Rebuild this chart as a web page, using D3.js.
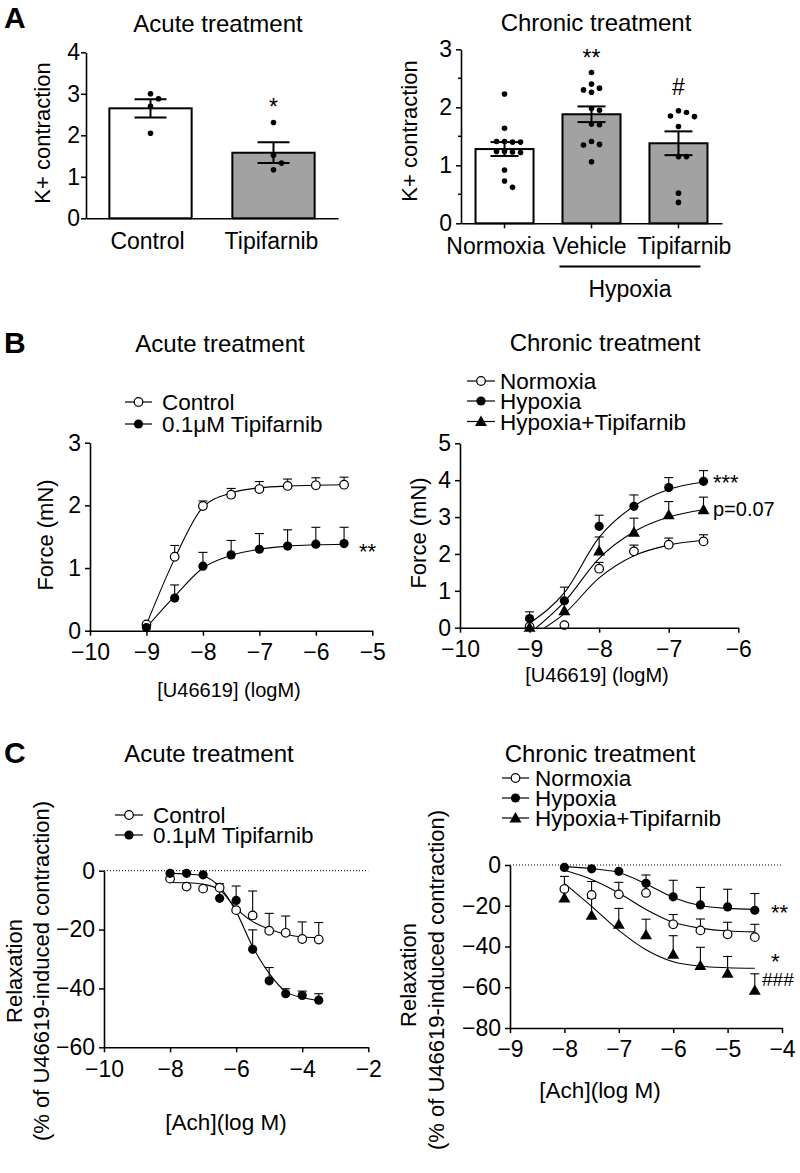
<!DOCTYPE html>
<html><head><meta charset="utf-8">
<script src="https://cdn.jsdelivr.net/npm/d3@7"></script>
<style>
body{margin:0;background:#fff;}
svg text{font-family:"Liberation Sans",Arial,sans-serif;fill:#000;}
</style></head><body>
<svg id="fig" width="800" height="1173"></svg>
<script>
// ---------------- DATA ----------------
// Panel A – acute
const aAcuteCategories = ["Control", "Tipifarnib"];
const aAcuteMean = [2.65, 1.58];
const aAcuteSem = [0.22, 0.25];
const aAcuteDots = [[3.00, 2.88, 2.70, 2.05], [2.31, 1.52, 1.33, 1.17]];
const aAcuteSig = ["", "*"];
const aAcuteYTicks = [0, 1, 2, 3, 4];
// Panel A – chronic
const aChronicCategories = ["Normoxia", "Vehicle", "Tipifarnib"];
const aChronicMean = [1.28, 1.88, 1.38];
const aChronicSem = [0.12, 0.135, 0.205];
const aChronicDots = [
  [2.23, 1.64, 1.41, 1.40, 1.41, 1.40, 1.24, 1.23, 1.24, 1.22, 0.92, 0.73, 0.62],
  [2.60, 2.33, 2.26, 2.30, 2.40, 1.98, 1.95, 1.70, 1.71, 1.36, 1.35, 1.41, 1.06],
  [1.91, 1.84, 1.85, 1.94, 1.67, 1.15, 1.15, 0.52, 0.36]
];
const aChronicSig = ["", "**", "#"];
const aChronicYTicks = [0, 1, 2, 3];
const aChronicYMinor = [0.5, 1.5, 2.5];

// Panel B – acute
const bAcuteDose = [-9, -8.5, -8, -7.5, -7, -6.5, -6, -5.5];
const bAcuteControl = [0.10, 1.18, 1.99, 2.17, 2.26, 2.31, 2.32, 2.33];
const bAcuteControlSem = [0, 0.18, 0.08, 0.10, 0.12, 0.11, 0.12, 0.12];
const bAcuteControlFit = [0.10, 1.15, 1.97, 2.20, 2.28, 2.31, 2.32, 2.33];
const bAcuteTipi = [0.05, 0.52, 1.03, 1.21, 1.30, 1.35, 1.38, 1.39];
const bAcuteTipiSem = [0, 0.21, 0.22, 0.23, 0.25, 0.26, 0.27, 0.26];
const bAcuteTipiFit = [0.05, 0.55, 1.00, 1.20, 1.30, 1.35, 1.37, 1.38];
const bAcuteXTicks = [-10, -9, -8, -7, -6, -5];
const bAcuteYTicks = [0, 1, 2, 3];
// Panel B – chronic
const bChronicDose = [-9, -8.5, -8, -7.5, -7, -6.5];
const bChronicNorm = [0.03, 0.07, 1.60, 2.07, 2.25, 2.34];
const bChronicNormSem = [0, 0, 0.17, 0.17, 0.18, 0.18];
const bChronicNormFit = [-0.25, 0.38, 1.35, 1.95, 2.24, 2.37];
const bChronicHyp = [0.25, 0.73, 2.75, 3.29, 3.80, 3.97];
const bChronicHypSem = [0.18, 0.37, 0.30, 0.31, 0.27, 0.29];
const bChronicHypFit = [0.12, 0.95, 2.45, 3.30, 3.75, 3.95];
const bChronicHypTip = [0.01, 0.46, 2.08, 2.59, 3.06, 3.20];
const bChronicHypTipSem = [0, 0.25, 0.38, 0.38, 0.36, 0.34];
const bChronicHypTipFit = [-0.15, 0.70, 1.88, 2.60, 3.00, 3.20];
const bChronicXTicks = [-10, -9, -8, -7, -6];
const bChronicYTicks = [0, 1, 2, 3, 4, 5];

// Panel C – acute
const cAcuteDose = [-8, -7.5, -7, -6.5, -6, -5.5, -5, -4.5, -4, -3.5];
const cAcuteControl = [-2.7, -5.4, -6.1, -5.8, -13.4, -15.2, -20.4, -21.1, -23.2, -23.4];
const cAcuteControlSem = [0, 0, 0, 0, 0, 8.3, 5.9, 5.7, 5.8, 5.8];
const cAcuteControlFit = [-4.0, -4.1, -4.6, -6.5, -12.8, -17.3, -19.8, -21.6, -22.5, -22.7];
const cAcuteTipi = [-0.9, -0.9, -1.4, -9.4, -10.1, -26.7, -37.4, -41.8, -42.4, -44.0];
const cAcuteTipiSem = [0, 0, 0, 5.0, 4.9, 6.6, 4.5, 1.7, 1.5, 2.2];
const cAcuteTipiFit = [-0.9, -1.1, -1.8, -5.5, -13.9, -25.8, -34.9, -41.1, -43.1, -44.1];
const cAcuteXTicks = [-10, -8, -6, -4, -2];
const cAcuteYTicks = [0, -20, -40, -60];
// Panel C – chronic
const cChronicDose = [-8, -7.5, -7, -6.5, -6, -5.5, -5, -4.5];
const cChronicNorm = [-11.8, -14.7, -14.4, -13.7, -29.1, -32.1, -34.0, -35.4];
const cChronicNormSem = [6.2, 6.6, 5.9, 0, 4.8, 5.6, 5.9, 6.3];
const cChronicNormFit = [-2.6, -7.1, -13.7, -21.8, -28.1, -31.0, -32.4, -32.8];
const cChronicHyp = [-1.2, -1.9, -3.1, -9.0, -15.6, -19.6, -20.6, -22.2];
const cChronicHypSem = [0, 0, 0, 4.1, 8.1, 8.6, 8.7, 8.2];
const cChronicHypFit = [-0.8, -1.8, -3.7, -9.3, -15.9, -19.9, -21.3, -21.8];
const cChronicHypTip = [-16.2, -24.7, -29.1, -34.3, -43.8, -49.4, -53.1, -61.5];
const cChronicHypTipSem = [0, 8.4, 7.8, 7.7, 9.1, 9.0, 8.2, 8.1];
const cChronicHypTipFit = [-9.0, -20.3, -32.1, -41.6, -47.5, -49.7, -50.4, -50.7];
const cChronicXTicks = [-9, -8, -7, -6, -5, -4];
const cChronicYTicks = [0, -20, -40, -60, -80];

// ---------------- DRAWING ----------------
const FONT = '"Liberation Sans", Arial, sans-serif';
const svg = d3.select("#fig");
const GRAY = "#a2a2a2";
const TICK_FS = 23, TITLE_FS = 24, LEG_FS = 22.5, AXT_FS = 22;

function txt(x, y, s, size, opt = {}) {
  const t = svg.append("text").attr("x", x).attr("y", y).text(s)
    .attr("font-size", size).attr("font-family", FONT)
    .attr("text-anchor", opt.anchor || "start");
  if (opt.bold) t.attr("font-weight", "bold");
  return t;
}
function vtxt(cx, cy, s, size) {
  svg.append("text").attr("transform", `translate(${cx},${cy}) rotate(-90)`)
    .attr("text-anchor", "middle").attr("dominant-baseline", "central")
    .attr("font-size", size).attr("font-family", FONT).text(s);
}
function styleAxis(g, fs) {
  g.attr("font-size", fs).attr("font-family", FONT);
  g.selectAll("path.domain").attr("stroke", "#000").attr("stroke-width", 1.6);
  g.selectAll(".tick line").attr("stroke", "#000").attr("stroke-width", 1.5);
  g.selectAll(".tick text").attr("fill", "#000");
}
function swarm(values, y, cx, d) {
  const placed = [], out = new Array(values.length);
  values.map((v, i) => ({ v, i })).sort((a, b) => b.v - a.v).forEach(({ v, i }) => {
    const yy = y(v);
    for (let k = 0; k < 60; k++) {
      const off = k === 0 ? 0 : (k % 2 ? 1 : -1) * Math.ceil(k / 2) * d;
      const xx = cx + off;
      if (placed.every(p => Math.hypot(p.x - xx, p.y - yy) >= d)) {
        placed.push({ x: xx, y: yy }); out[i] = { x: xx, y: yy }; break;
      }
    }
  });
  return out;
}

function barPanel(o) {
  const g = svg.append("g");
  const x = d3.scaleBand().domain(o.cats).range(o.xRange).paddingInner(o.pi).paddingOuter(o.po);
  const y = d3.scaleLinear().domain(o.yDomain).range(o.yRange);
  o.cats.forEach((c, i) => {
    g.append("rect").attr("x", x(c)).attr("y", y(o.mean[i]))
      .attr("width", x.bandwidth()).attr("height", y(0) - y(o.mean[i]))
      .attr("fill", o.fills[i]).attr("stroke", "#000").attr("stroke-width", 2);
  });
  o.cats.forEach((c, i) => {
    const cx = x(c) + x.bandwidth() / 2;
    swarm(o.dots[i], y, cx, 8).forEach(p => {
      g.append("circle").attr("cx", p.x).attr("cy", p.y).attr("r", 2.8).attr("fill", "#000");
    });
  });
  o.cats.forEach((c, i) => {
    const cx = x(c) + x.bandwidth() / 2, hw = o.capW / 2;
    const lo = y(o.mean[i] - o.sem[i]), hi = y(o.mean[i] + o.sem[i]);
    g.append("line").attr("x1", cx).attr("x2", cx).attr("y1", lo).attr("y2", hi).attr("stroke", "#000").attr("stroke-width", 2);
    [lo, hi].forEach(yy => g.append("line").attr("x1", cx - hw).attr("x2", cx + hw).attr("y1", yy).attr("y2", yy).attr("stroke", "#000").attr("stroke-width", 2));
  });
  o.cats.forEach((c, i) => {
    if (!o.sig[i]) return;
    const cx = x(c) + x.bandwidth() / 2;
    const top = y(d3.max(o.dots[i]));
    const off = o.sig[i].includes("#") ? 16 : 7;
    txt(cx, top - off, o.sig[i], 23, { anchor: "middle" });
  });
  const ya = g.append("g").attr("transform", `translate(${o.xRange[0]},0)`)
    .call(d3.axisLeft(y).tickValues(o.yTicks).tickFormat(d3.format("d")).tickSize(5).tickSizeOuter(0).tickPadding(o.yPad));
  styleAxis(ya, TICK_FS);
  if (o.yMinor) {
    o.yMinor.forEach(v => g.append("line").attr("x1", o.xRange[0] - 3).attr("x2", o.xRange[0]).attr("y1", y(v)).attr("y2", y(v)).attr("stroke", "#000").attr("stroke-width", 1.5));
  }
  const xa = g.append("g").attr("transform", `translate(0,${y(0)})`)
    .call(d3.axisBottom(x).tickSize(o.xTickSize).tickSizeOuter(0).tickPadding(o.xPad));
  styleAxis(xa, TICK_FS);
  if (o.labelShift) xa.selectAll(".tick text").attr("dx", (d, i) => o.labelShift[i]);
  return { x, y };
}

function marker(g, type, cx, cy) {
  if (type === "open") {
    g.append("circle").attr("cx", cx).attr("cy", cy).attr("r", 4.3).attr("fill", "#fff").attr("stroke", "#000").attr("stroke-width", 1.2);
  } else if (type === "filled") {
    g.append("circle").attr("cx", cx).attr("cy", cy).attr("r", 4.6).attr("fill", "#000");
  } else {
    g.append("path").attr("d", d3.symbol(d3.symbolTriangle, 62)()).attr("transform", `translate(${cx},${cy + 1})`).attr("fill", "#000");
  }
}

function linePanel(o) {
  const g = svg.append("g");
  const x = d3.scaleLinear().domain(o.xDomain).range(o.xRange);
  const y = d3.scaleLinear().domain(o.yDomain).range(o.yRange);
  const id = "clip" + Math.round(o.xRange[0]) + Math.round(o.yRange[0]);
  g.append("clipPath").attr("id", id).append("rect")
    .attr("x", o.xRange[0]).attr("y", 0).attr("width", o.xRange[1] - o.xRange[0]).attr("height", y(o.clipMin));
  if (o.zeroLine) {
    g.append("line").attr("x1", o.xRange[0]).attr("x2", o.xRange[1]).attr("y1", y(0)).attr("y2", y(0))
      .attr("stroke", "#000").attr("stroke-width", 1).attr("stroke-dasharray", "1,2");
  }
  const line = d3.line().x(d => x(d[0])).y(d => y(d[1])).curve(d3.curveMonotoneX);
  o.series.forEach(s => {
    g.append("path").attr("d", line(s.x.map((v, i) => [v, s.fit[i]])))
      .attr("fill", "none").attr("stroke", "#000").attr("stroke-width", 1.1).attr("clip-path", `url(#${id})`);
  });
  o.series.forEach(s => {
    s.x.forEach((v, i) => {
      if (!s.sem[i]) return;
      const cx = x(v), y1 = y(s.y[i]), y2 = y(s.y[i] + s.sem[i]);
      g.append("line").attr("x1", cx).attr("x2", cx).attr("y1", y1).attr("y2", y2).attr("stroke", "#000").attr("stroke-width", 1.1);
      g.append("line").attr("x1", cx - 4.5).attr("x2", cx + 4.5).attr("y1", y2).attr("y2", y2).attr("stroke", "#000").attr("stroke-width", 1.1);
    });
  });
  o.series.forEach(s => s.x.forEach((v, i) => marker(g, s.marker, x(v), y(s.y[i]))));
  const ya = g.append("g").attr("transform", `translate(${o.xRange[0]},0)`)
    .call(d3.axisLeft(y).tickValues(o.yTicks).tickFormat(d3.format("d")).tickSize(5).tickSizeOuter(0).tickPadding(4));
  styleAxis(ya, TICK_FS);
  const xa = g.append("g").attr("transform", `translate(0,${o.yRange[0]})`)
    .call(d3.axisBottom(x).tickValues(o.xTicks).tickFormat(d3.format("d")).tickSize(5).tickSizeOuter(0).tickPadding(8));
  styleAxis(xa, TICK_FS);
  return { x, y };
}

function legend(items, x0, x1, tx, ys) {
  const g = svg.append("g");
  items.forEach((it, i) => {
    g.append("line").attr("x1", x0).attr("x2", x1).attr("y1", ys[i]).attr("y2", ys[i]).attr("stroke", "#000").attr("stroke-width", 1.2);
    marker(g, it.marker, (x0 + x1) / 2, ys[i]);
    txt(tx, ys[i] + 8, it.label, LEG_FS);
  });
}

// ---- Panel letters ----
txt(4, 28, "A", 30, { bold: true });
txt(4, 353, "B", 30, { bold: true });
txt(4, 763, "C", 30, { bold: true });

// ---- Panel A ----
txt(218, 32, "Acute treatment", TITLE_FS, { anchor: "middle" });
txt(596, 31, "Chronic treatment", TITLE_FS, { anchor: "middle" });
barPanel({
  cats: aAcuteCategories, mean: aAcuteMean, sem: aAcuteSem, dots: aAcuteDots, sig: aAcuteSig,
  yDomain: [0, 4], yRange: [218.3, 52.3], yTicks: aAcuteYTicks, xRange: [86, 338], pi: 0.331, po: 0.19,
  fills: ["#fff", GRAY], capW: 32, xTickSize: 0, xPad: 14, yPad: 1, labelShift: [-3, -2]
});
vtxt(42, 133, "K+ contraction", AXT_FS);
const aR = barPanel({
  cats: aChronicCategories, mean: aChronicMean, sem: aChronicSem, dots: aChronicDots, sig: aChronicSig,
  yDomain: [0, 3], yRange: [223.3, 49.3], yTicks: aChronicYTicks, yMinor: aChronicYMinor, xRange: [461, 722], pi: 0.333, po: 0.167,
  fills: ["#fff", GRAY, GRAY], capW: 28, xTickSize: 5, xPad: 9, yPad: 4, labelShift: [-9, -2, 6]
});
vtxt(409, 131, "K+ contraction", AXT_FS);
{
  const xs = aR.x("Vehicle") - 3, xe = aR.x("Tipifarnib") + aR.x.bandwidth() - 7;
  svg.append("line").attr("x1", xs).attr("x2", xe).attr("y1", 266.5).attr("y2", 266.5).attr("stroke", "#000").attr("stroke-width", 2);
  txt((xs + xe) / 2, 297, "Hypoxia", TICK_FS, { anchor: "middle" });
}

// ---- Panel B ----
txt(220, 352, "Acute treatment", TITLE_FS, { anchor: "middle" });
txt(605, 351, "Chronic treatment", TITLE_FS, { anchor: "middle" });
legend([{ marker: "open", label: "Control" }, { marker: "filled", label: "0.1\u03BCM Tipifarnib" }], 125, 152, 162, [402, 424]);
const bL = linePanel({
  xDomain: [-10, -5], xRange: [90, 372.3], yDomain: [0, 3], yRange: [630.7, 442.7], clipMin: 0,
  xTicks: bAcuteXTicks, yTicks: bAcuteYTicks,
  series: [
    { x: bAcuteDose, y: bAcuteControl, sem: bAcuteControlSem, fit: bAcuteControlFit, marker: "open" },
    { x: bAcuteDose, y: bAcuteTipi, sem: bAcuteTipiSem, fit: bAcuteTipiFit, marker: "filled" }
  ]
});
vtxt(45, 535, "Force (mN)", AXT_FS);
txt(229, 697, "[U46619] (logM)", 20, { anchor: "middle" });
txt(359, bL.y(1.34) + 12, "**", 22);

legend([{ marker: "open", label: "Normoxia" }, { marker: "filled", label: "Hypoxia" }, { marker: "triangle", label: "Hypoxia+Tipifarnib" }],
  467, 495, 500, [381, 401, 421.5]);
const bR = linePanel({
  xDomain: [-10, -6], xRange: [460, 738.3], yDomain: [0, 5], yRange: [627.7, 443.3], clipMin: 0,
  xTicks: bChronicXTicks, yTicks: bChronicYTicks,
  series: [
    { x: bChronicDose, y: bChronicNorm, sem: bChronicNormSem, fit: bChronicNormFit, marker: "open" },
    { x: bChronicDose, y: bChronicHyp, sem: bChronicHypSem, fit: bChronicHypFit, marker: "filled" },
    { x: bChronicDose, y: bChronicHypTip, sem: bChronicHypTipSem, fit: bChronicHypTipFit, marker: "triangle" }
  ]
});
vtxt(418, 533, "Force (mN)", AXT_FS);
txt(597, 682, "[U46619] (logM)", 20, { anchor: "middle" });
txt(713, bR.y(4.05) + 12, "***", 22);
txt(713, bR.y(3.23) + 7, "p=0.07", 20);

// ---- Panel C ----
txt(209, 762, "Acute treatment", TITLE_FS, { anchor: "middle" });
txt(600, 762, "Chronic treatment", TITLE_FS, { anchor: "middle" });
legend([{ marker: "open", label: "Control" }, { marker: "filled", label: "0.1\u03BCM Tipifarnib" }], 115, 143, 153, [815, 835]);
linePanel({
  xDomain: [-10, -2], xRange: [104, 368.3], yDomain: [-60, 0], yRange: [1047.3, 870.7], clipMin: -60, zeroLine: true,
  xTicks: cAcuteXTicks, yTicks: cAcuteYTicks,
  series: [
    { x: cAcuteDose, y: cAcuteControl, sem: cAcuteControlSem, fit: cAcuteControlFit, marker: "open" },
    { x: cAcuteDose, y: cAcuteTipi, sem: cAcuteTipiSem, fit: cAcuteTipiFit, marker: "filled" }
  ]
});
vtxt(14, 971, "Relaxation", AXT_FS);
vtxt(41, 971, "(% of U46619-induced contraction)", AXT_FS);
txt(226, 1130, "[Ach](log M)", 22.5, { anchor: "middle" });

legend([{ marker: "open", label: "Normoxia" }, { marker: "filled", label: "Hypoxia" }, { marker: "triangle", label: "Hypoxia+Tipifarnib" }],
  502, 529, 535, [778, 798, 818]);
const cR = linePanel({
  xDomain: [-9, -4], xRange: [510, 782], yDomain: [-80, 0], yRange: [1028, 865], clipMin: -80, zeroLine: true,
  xTicks: cChronicXTicks, yTicks: cChronicYTicks,
  series: [
    { x: cChronicDose, y: cChronicNorm, sem: cChronicNormSem, fit: cChronicNormFit, marker: "open" },
    { x: cChronicDose, y: cChronicHyp, sem: cChronicHypSem, fit: cChronicHypFit, marker: "filled" },
    { x: cChronicDose, y: cChronicHypTip, sem: cChronicHypTipSem, fit: cChronicHypTipFit, marker: "triangle" }
  ]
});
vtxt(408, 975, "Relaxation", AXT_FS);
vtxt(436, 980, "(% of U46619-induced contraction)", AXT_FS);
txt(600, 1098, "[Ach](log M)", 22.5, { anchor: "middle" });
txt(771, cR.y(-21) + 12, "**", 22);
txt(771, cR.y(-46) + 10, "*", 22);
txt(762, cR.y(-56) + 7, "###", 19);
</script>
</body></html>
